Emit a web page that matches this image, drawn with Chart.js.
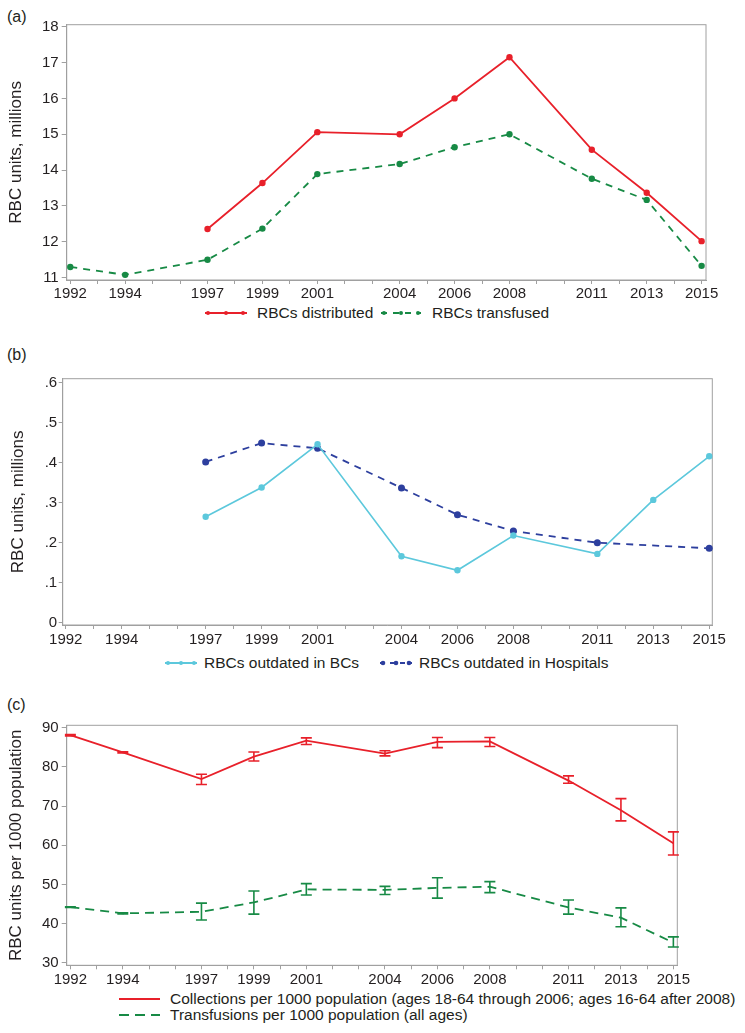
<!DOCTYPE html>
<html>
<head>
<meta charset="utf-8">
<script src="https://cdn.jsdelivr.net/npm/chart.js@4.4.1/dist/chart.umd.min.js"></script>
<style>
body{margin:0;background:#fff;width:745px;height:1033px;position:relative;overflow:hidden;
  font-family:'Liberation Sans',Arial,sans-serif;color:#231f20}
canvas{position:absolute;left:0}
.tag{position:absolute;left:7px;font-size:16px;line-height:18px}
.sw{position:absolute}
.lt{position:absolute;font-size:15.5px;line-height:18px;white-space:nowrap}
</style>
</head>
<body>
<div class="tag" style="top:8px">(a)</div>
<canvas id="chartA" width="745" height="300" style="top:0"></canvas>
<svg class="sw" style="left:205px;top:308px" width="42" height="10"><line x1="0" y1="5" x2="42" y2="5" stroke="#e8202a" stroke-width="2"/><circle cx="3" cy="5" r="2" fill="#e8202a"/><circle cx="21" cy="5" r="2" fill="#e8202a"/><circle cx="38" cy="5" r="2" fill="#e8202a"/></svg>
<div class="lt" style="left:257px;top:304px">RBCs distributed</div>
<svg class="sw" style="left:381px;top:308px" width="40" height="10"><line x1="0" y1="5" x2="40" y2="5" stroke="#178a45" stroke-width="2" stroke-dasharray="6,6"/><circle cx="3" cy="5" r="2" fill="#178a45"/><circle cx="20" cy="5" r="2" fill="#178a45"/><circle cx="37" cy="5" r="2" fill="#178a45"/></svg>
<div class="lt" style="left:432px;top:304px">RBCs transfused</div>

<div class="tag" style="top:346px">(b)</div>
<canvas id="chartB" width="745" height="315" style="top:330px"></canvas>
<svg class="sw" style="left:165px;top:658px" width="32" height="10"><line x1="0" y1="5" x2="32" y2="5" stroke="#5cc8dc" stroke-width="2"/><circle cx="3" cy="5" r="2" fill="#5cc8dc"/><circle cx="16" cy="5" r="2" fill="#5cc8dc"/><circle cx="29" cy="5" r="2" fill="#5cc8dc"/></svg>
<div class="lt" style="left:204px;top:654px">RBCs outdated in BCs</div>
<svg class="sw" style="left:380px;top:658px" width="32" height="10"><line x1="0" y1="5" x2="32" y2="5" stroke="#2d3f9e" stroke-width="2" stroke-dasharray="5,5"/><circle cx="3" cy="5" r="2.3" fill="#2d3f9e"/><circle cx="16" cy="5" r="2.3" fill="#2d3f9e"/><circle cx="29" cy="5" r="2.3" fill="#2d3f9e"/></svg>
<div class="lt" style="left:419px;top:654px">RBCs outdated in Hospitals</div>

<div class="tag" style="top:696px">(c)</div>
<canvas id="chartC" width="745" height="306" style="top:680px"></canvas>
<svg class="sw" style="left:119px;top:994px" width="41" height="10"><line x1="0" y1="5" x2="41" y2="5" stroke="#e8202a" stroke-width="2"/></svg>
<div class="lt" style="left:170px;top:990px">Collections per 1000 population (ages 18-64 through 2006; ages 16-64 after 2008)</div>
<svg class="sw" style="left:119px;top:1010px" width="41" height="10"><line x1="0" y1="5" x2="41" y2="5" stroke="#178a45" stroke-width="2" stroke-dasharray="10,6"/></svg>
<div class="lt" style="left:170px;top:1006px">Transfusions per 1000 population (all ages)</div>

<script>
// survey years
var years = [1992, 1994, 1997, 1999, 2001, 2004, 2006, 2008, 2011, 2013, 2015];
var yearLabels = [1992, 1994, 1997, 1999, 2001, 2004, 2006, 2008, 2011, 2013, 2015];

// (a) millions of units
var distributed = [null, null, 12.36, 13.64, 15.06, 15.0, 16.0, 17.15, 14.57, 13.37, 12.02];
var transfused  = [11.30, 11.08, 11.50, 12.37, 13.89, 14.17, 14.64, 15.0, 13.76, 13.17, 11.33];
var ticksA = [11, 12, 13, 14, 15, 16, 17, 18];

// (b) outdated units, millions
var outdatedBCs  = [null, null, 0.265, 0.338, 0.446, 0.166, 0.131, 0.218, 0.172, 0.307, 0.416];
var outdatedHosp = [null, null, 0.402, 0.449, 0.436, 0.337, 0.270, 0.229, 0.200, null, 0.186];
var ticksB = [0, 0.1, 0.2, 0.3, 0.4, 0.5, 0.6];

// (c) per 1000 population with confidence limits
var collections = [88.1, 83.7, 76.9, 82.6, 86.7, 83.4, 86.4, 86.5, 76.5, 68.9, 60.5];
var collLow     = [87.9, 83.55, 75.5, 81.5, 85.7, 82.8, 84.9, 85.2, 75.8, 66.2, 57.5];
var collHigh    = [88.25, 83.85, 78.1, 83.8, 87.4, 84.1, 87.5, 87.5, 77.7, 71.9, 63.4];
var transfusions = [44.2, 42.6, 43.0, 45.4, 48.7, 48.6, 49.1, 49.4, 44.1, 41.5, 35.1];
var transLow     = [44.1, 42.45, 40.9, 42.4, 47.3, 47.4, 46.5, 47.9, 42.4, 39.2, 34.0];
var transHigh    = [44.3, 42.75, 45.2, 48.3, 50.2, 49.5, 51.7, 50.7, 46.0, 44.0, 36.6];
var ticksC = [30, 40, 50, 60, 70, 80, 90];

var RED = '#e8202a', GREEN = '#178a45', CYAN = '#5cc8dc', NAVY = '#2d3f9e';
var GRAY = '#a0a0a0';
var sans = "'Liberation Sans', Arial, sans-serif";

function pts(vals) {
  return years.map(function (y, i) { return { x: y, y: vals[i] }; });
}

var frame = {
  id: 'frame',
  beforeDatasetsDraw: function (c) {
    var a = c.chartArea, ctx = c.ctx;
    ctx.save();
    ctx.strokeStyle = GRAY;
    ctx.lineWidth = 1;
    ctx.strokeRect(a.left, a.top, a.right - a.left, a.bottom - a.top);
    ctx.restore();
  }
};

var errorBars = {
  id: 'errorBars',
  afterDatasetsDraw: function (c) {
    var ctx = c.ctx, x = c.scales.x, y = c.scales.y;
    c.data.datasets.forEach(function (ds) {
      if (!ds.errLow) return;
      ctx.save();
      ctx.strokeStyle = ds.borderColor;
      ctx.lineWidth = 1.6;
      ds.data.forEach(function (p, i) {
        var px = x.getPixelForValue(p.x);
        var lo = y.getPixelForValue(ds.errLow[i]);
        var hi = y.getPixelForValue(ds.errHigh[i]);
        ctx.beginPath();
        ctx.moveTo(px, lo); ctx.lineTo(px, hi);
        ctx.moveTo(px - 5.5, lo); ctx.lineTo(px + 5.5, lo);
        ctx.moveTo(px - 5.5, hi); ctx.lineTo(px + 5.5, hi);
        ctx.stroke();
      });
      ctx.restore();
    });
  }
};

function makeOptions(cfg) {
  return {
    responsive: false,
    animation: false,
    layout: { padding: { top: cfg.top, right: cfg.right, left: 0, bottom: 0 } },
    plugins: { legend: { display: false }, tooltip: { enabled: false } },
    scales: {
      x: {
        type: 'linear', min: cfg.xmin, max: cfg.xmax,
        afterBuildTicks: function (s) {
          var t = [];
          for (var v = 1992; v <= 2015; v++) t.push({ value: v });
          s.ticks = t;
        },
        afterFit: function (s) { s.height = cfg.xh; },
        ticks: {
          autoSkip: false, maxRotation: 0, padding: cfg.xpad, color: '#231f20',
          font: { family: sans, size: 15 },
          callback: function (v) { return yearLabels.indexOf(v) >= 0 ? String(v) : ''; }
        },
        grid: { drawOnChartArea: false, tickLength: 4, tickColor: GRAY, color: GRAY },
        border: { color: GRAY }
      },
      y: {
        min: cfg.ymin, max: cfg.ymax,
        afterBuildTicks: function (s) { s.ticks = cfg.ticks.map(function (v) { return { value: v }; }); },
        afterFit: function (s) { s.width = cfg.yw; },
        ticks: {
          padding: cfg.ypad, color: '#231f20',
          font: { family: sans, size: 15 },
          callback: cfg.fmt || function (v) { return String(v); }
        },
        title: {
          display: true, text: cfg.title, color: '#231f20',
          font: { family: sans, size: 17 }, padding: { top: cfg.tpad, bottom: 0 }
        },
        grid: { drawOnChartArea: false, tickLength: cfg.ylen, tickColor: GRAY, color: GRAY },
        border: { color: GRAY }
      }
    }
  };
}

new Chart(document.getElementById('chartA'), {
  type: 'line',
  data: {
    datasets: [
      { label: 'RBCs distributed', data: pts(distributed), borderColor: RED, backgroundColor: RED,
        borderWidth: 1.8, pointRadius: 3.2, pointBorderWidth: 0, clip: false },
      { label: 'RBCs transfused', data: pts(transfused), borderColor: GREEN, backgroundColor: GREEN,
        borderWidth: 1.8, borderDash: [7, 6], pointRadius: 3.2, pointBorderWidth: 0, clip: false }
    ]
  },
  options: makeOptions({ top: 24.7, right: 39, xmin: 1991.87, xmax: 2015.16, xh: 20, xpad: 1,
    ymin: 10.936, ymax: 18.056, ticks: ticksA, yw: 66.7, ylen: 5, ypad: 3, tpad: 6.5,
    title: 'RBC units, millions' }),
  plugins: [frame]
});

new Chart(document.getElementById('chartB'), {
  type: 'line',
  data: {
    datasets: [
      { label: 'RBCs outdated in BCs', data: pts(outdatedBCs), borderColor: CYAN, backgroundColor: CYAN,
        borderWidth: 1.6, pointRadius: 3.2, pointBorderWidth: 0, clip: false },
      { label: 'RBCs outdated in Hospitals', data: pts(outdatedHosp), borderColor: NAVY, backgroundColor: NAVY,
        borderWidth: 1.8, borderDash: [7, 6], pointRadius: 3.5, pointBorderWidth: 0, spanGaps: true, clip: false }
    ]
  },
  options: makeOptions({ top: 48.7, right: 32.7, xmin: 1991.89, xmax: 2015.11, xh: 20, xpad: 2,
    ymin: -0.0058, ymax: 0.61, ticks: ticksB, yw: 62.7, ylen: 4, ypad: 1.5, tpad: 8.5,
    title: 'RBC units, millions',
    fmt: function (v) { return v === 0 ? '0' : v.toFixed(1).replace(/^0/, ''); } }),
  plugins: [frame]
});

new Chart(document.getElementById('chartC'), {
  type: 'line',
  data: {
    datasets: [
      { label: 'Collections per 1000 population', data: pts(collections), borderColor: RED,
        borderWidth: 1.8, pointRadius: 0, clip: false, errLow: collLow, errHigh: collHigh },
      { label: 'Transfusions per 1000 population (all ages)', data: pts(transfusions), borderColor: GREEN,
        borderWidth: 1.8, borderDash: [9, 6], pointRadius: 0, clip: false, errLow: transLow, errHigh: transHigh }
    ]
  },
  options: makeOptions({ top: 45.3, right: 67.7, xmin: 1991.86, xmax: 2015.15, xh: 20.7, xpad: 2,
    ymin: 29.34, ymax: 90.61, ticks: ticksC, yw: 66.7, ylen: 5, ypad: 3, tpad: 6.5,
    title: 'RBC units per 1000 population' }),
  plugins: [frame, errorBars]
});
</script>
</body>
</html>
